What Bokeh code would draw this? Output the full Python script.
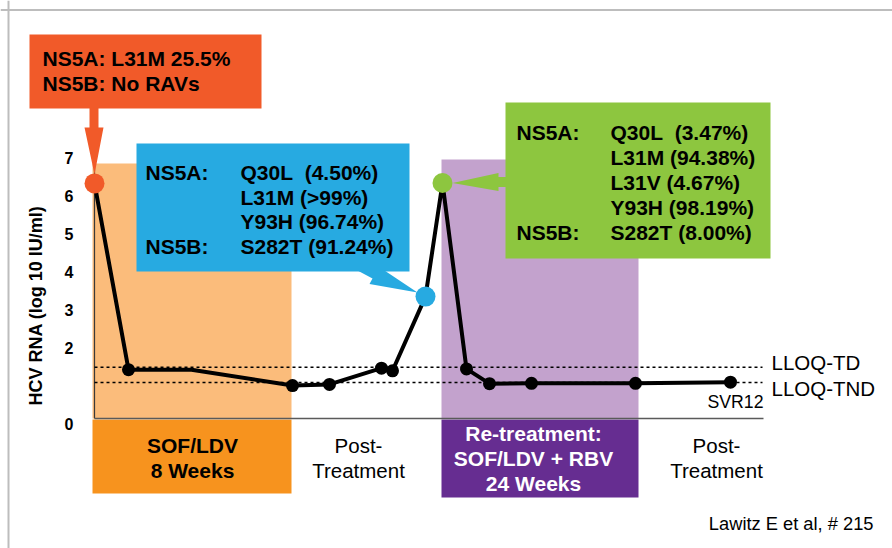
import math
from bokeh.plotting import figure
from bokeh.models import Range1d, Span
from bokeh.core.properties import value
from bokeh.embed import file_html
from bokeh.resources import INLINE

# ---------------- data ----------------
# schematic timeline position (x) and HCV RNA in log10 IU/ml (y)
timeline_x = [0, 34, 97, 198, 235, 287, 298, 331, 348, 372, 395, 437, 541, 636]
hcv_log = [6.21, 1.29, 1.29, 0.87, 0.90, 1.33, 1.26, 3.22, 6.22, 1.31, 0.92, 0.93, 0.93, 0.96]
black_marker_idx = [1, 3, 4, 5, 6, 9, 10, 11, 12, 13]
baseline_idx = 0        # orange callout
breakthrough_idx = 7    # blue callout
retreat_idx = 8         # green callout

lloq_names = ["LLOQ-TD", "LLOQ-TND"]
lloq_values = [1.355, 0.95]

y_ticks = [0, 2, 3, 4, 5, 6, 7]
y_tick_labels = ["0", "2", "3", "4", "5", "6", "7"]

phase_labels = ["SOF/LDV\n8 Weeks", "Post-\nTreatment",
                "Re-treatment:\nSOF/LDV + RBV\n24 Weeks", "Post-\nTreatment"]
phase_start = [-2, 197, 347, 544]
phase_end = [197, 347, 544, 669]
phase_label_x = [98, 264, 439, 622]
phase_shade_top = [6.735, None, 6.84, None]

NB = "\u00a0"
orange_lines = ["NS5A: L31M 25.5%", "NS5B: No RAVs"]
blue_col1 = ["NS5A:", "", "", "NS5B:"]
blue_col2 = ["Q30L" + NB + " (4.50%)", "L31M (>99%)", "Y93H (96.74%)", "S282T (91.24%)"]
green_col1 = ["NS5A:", "", "", "", "NS5B:"]
green_col2 = ["Q30L" + NB + " (3.47%)", "L31M (94.38%)", "L31V (4.67%)", "Y93H (98.19%)", "S282T (8.00%)"]

# ---------------- layout helpers (page pixels <-> data) ----------------
X0, Y0, PPU = 94.0, 418.0, 37.86
W, H = 892, 548


def X(px):
    return px - X0


def Y(py):
    return (Y0 - py) / PPU


def PX(x):
    return x + X0


def PY(v):
    return Y0 - v * PPU


FONT = value("Liberation Sans")
C_ORANGE = "#F15A29"
C_BLUE = "#27AAE1"
C_GREEN = "#8DC63F"
C_LORANGE = "#FBBC7B"
C_DORANGE = "#F7931E"
C_LPURPLE = "#C3A2CD"
C_DPURPLE = "#662D91"

p = figure(width=W, height=H, output_backend="svg", toolbar_location=None,
           x_range=Range1d(X(0), X(W)), y_range=Range1d(Y(H), Y(0)),
           x_axis_type=None, y_axis_type=None, min_border=0,
           outline_line_color=None, background_fill_color="white",
           border_fill_color="white")
p.xgrid.visible = False
p.ygrid.visible = False


def put(xs, ys, texts, size, bold=False, align="left", color="black", angle=0.0, yoff=0):
    p.text(x=xs, y=ys, text=texts, text_font=FONT, text_font_size=size,
           text_font_style="bold" if bold else "normal", text_align=align,
           text_baseline="middle", text_color=color, angle=angle, y_offset=yoff)


# slide border (top & left)
p.add_layout(Span(location=Y(9.5), dimension="width", line_color="#BDBDBD", line_width=2))
p.add_layout(Span(location=X(8.0), dimension="height", line_color="#BDBDBD", line_width=2))

# phase shading
sh = [i for i in range(4) if phase_shade_top[i] is not None]
p.quad(left=[phase_start[i] for i in sh], right=[phase_end[i] for i in sh],
       bottom=[0] * len(sh), top=[phase_shade_top[i] for i in sh],
       fill_color=[C_LORANGE, C_LPURPLE], line_color=None)
# phase label boxes
p.quad(left=[phase_start[0], phase_start[2]], right=[phase_end[0], phase_end[2]],
       top=[Y(419), Y(419)], bottom=[Y(493), Y(497)],
       fill_color=[C_DORANGE, C_DPURPLE], line_color=None)

# axes lines
p.line(x=[0, 0], y=[0, 6.735], line_color="#3A3A3A", line_width=1.2)
p.line(x=[0, phase_end[3]], y=[0, 0], line_color="#5A5A5A", line_width=1.6)

# LLOQ dotted lines
for v in lloq_values:
    p.line(x=[0, phase_end[3] - 1], y=[v, v], line_color="black", line_width=1.5, line_dash="3 3")

# viral load line
p.line(x=timeline_x, y=hcv_log, line_color="black", line_width=4)
p.scatter(x=[timeline_x[i] for i in black_marker_idx], y=[hcv_log[i] for i in black_marker_idx],
          size=13, fill_color="black", line_color=None)
p.scatter(x=[timeline_x[baseline_idx], timeline_x[breakthrough_idx], timeline_x[retreat_idx]],
          y=[hcv_log[baseline_idx], hcv_log[breakthrough_idx], hcv_log[retreat_idx]],
          size=20, fill_color=[C_ORANGE, C_BLUE, C_GREEN], line_color=None)


def poly(pts, color):
    p.patch(x=[X(a) for a, b in pts], y=[Y(b) for a, b in pts], fill_color=color, line_color=None)


CALLOUT_FS = "21px"

# ---- orange callout ----
p.quad(left=X(29), right=X(261), top=Y(34), bottom=Y(108), fill_color=C_ORANGE, line_color=None)
tx, ty = PX(timeline_x[baseline_idx]), PY(hcv_log[baseline_idx]) - 9
cx = tx - 0.5
poly([(cx - 4.5, 107), (cx + 4.5, 107), (cx + 4.5, 127), (cx + 9.5, 127), (tx, ty),
      (cx - 9.5, 127), (cx - 4.5, 127)], C_ORANGE)
put([X(42)] * 2, [Y(58), Y(83)], orange_lines, CALLOUT_FS, bold=True)

# ---- blue callout ----
p.quad(left=X(136), right=X(409), top=Y(143), bottom=Y(271), fill_color=C_BLUE, line_color=None)
bx, by = PX(timeline_x[breakthrough_idx]), PY(hcv_log[breakthrough_idx])
poly([(357, 270), (384, 270), (bx - 8, by - 4), (369, 283.5), (372, 278)], C_BLUE)
rows_b = [Y(172 + 24.6 * i) for i in range(4)]
put([X(145)] * 4, rows_b, blue_col1, CALLOUT_FS, bold=True)
put([X(240)] * 4, rows_b, blue_col2, CALLOUT_FS, bold=True)

# ---- green callout ----
p.quad(left=X(505), right=X(770), top=Y(102), bottom=Y(258), fill_color=C_GREEN, line_color=None)
gx, gy = PX(timeline_x[retreat_idx]), PY(hcv_log[retreat_idx])
poly([(506, 176.5), (498, 176.5), (498, 172.5), (gx + 10, gy), (498, 190.5),
      (498, 186.5), (506, 186.5)], C_GREEN)
rows_g = [Y(132 + 25 * i) for i in range(5)]
put([X(516)] * 5, rows_g, green_col1, CALLOUT_FS, bold=True)
put([X(610)] * 5, rows_g, green_col2, CALLOUT_FS, bold=True)

# ---- y axis ticks & title ----
put([X(73)] * len(y_ticks), y_ticks, y_tick_labels, "16px", bold=True, align="right", yoff=5)
put([X(35)], [Y(305)], ["HCV RNA (log 10 IU/ml)"], "18px", bold=True, align="center",
    angle=math.pi / 2)

# ---- LLOQ labels, SVR12, citation ----
put([X(771)], [Y(PY(lloq_values[0]) - 5)], [lloq_names[0]], "20.5px")
put([X(771)], [Y(PY(lloq_values[1]) + 6)], [lloq_names[1]], "20.5px")
put([X(763)], [Y(401)], ["SVR12"], "17.7px", align="right")
put([X(873)], [Y(523)], ["Lawitz E et al, # 215"], "18.3px", align="right")

# ---- phase labels ----
block_center = Y(457.5)
for i, lab in enumerate(phase_labels):
    lines = lab.split("\n")
    n = len(lines)
    step = 25.0 / PPU
    ys = [block_center + step * ((n - 1) / 2 - k) for k in range(n)]
    is_treat = i in (0, 2)
    put([phase_label_x[i]] * n, ys, lines, "21px" if is_treat else "20.5px", bold=is_treat,
        align="center", color="white" if i == 2 else "black")

open("out.html", "w").write(file_html(p, INLINE))
